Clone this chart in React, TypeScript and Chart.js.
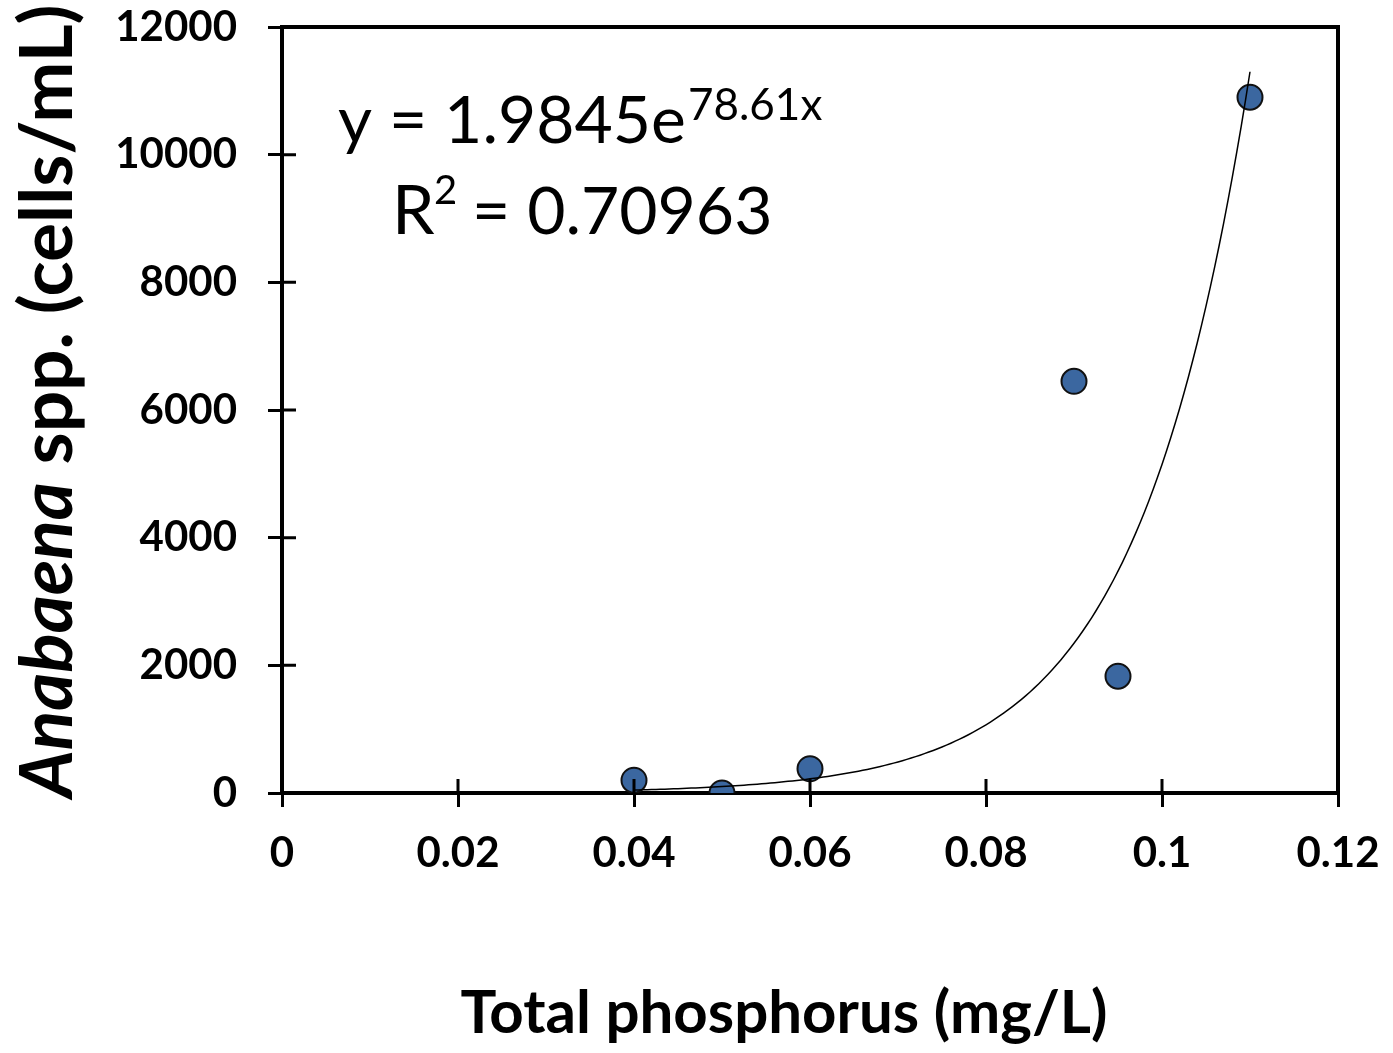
import React, { useEffect, useRef } from "react";
import { Chart, registerables } from "chart.js";

Chart.register(...registerables);

const X_VALUES = [0.04, 0.05, 0.06, 0.09, 0.095, 0.11];
const Y_VALUES = [200, 0, 380, 6450, 1830, 10900];
const X_TICK_LABELS = ["0", "0.02", "0.04", "0.06", "0.08", "0.1", "0.12"];
const Y_TICK_LABELS = ["0", "2000", "4000", "6000", "8000", "10000", "12000"];
const TREND_A = 1.9845;
const TREND_B = 78.61;
const TREND_X_RANGE = [0.04, 0.11];
const EQUATION_MAIN = "y = 1.9845e";
const EQUATION_EXP = "78.61x";
const R2_VALUE = "= 0.70963";
const X_TITLE = "Total phosphorus (mg/L)";
const Y_TITLE_ITALIC = "Anabaena";
const Y_TITLE_REST = " spp. (cells/mL)";

const FONT = "Lato";

const overlayPlugin = {
  id: "overlay",
  afterDraw(chart: any) {
    const { ctx, chartArea, scales } = chart;
    const { left, right, top, bottom } = chartArea;
    ctx.save();
    ctx.strokeStyle = "#000";
    ctx.lineWidth = 4;
    ctx.beginPath();
    ctx.moveTo(left - 2, top);
    ctx.lineTo(right, top);
    ctx.lineTo(right, bottom + 2);
    ctx.stroke();
    ctx.lineWidth = 3;
    ctx.beginPath();
    scales.x.ticks.forEach((t: any) => {
      const px = scales.x.getPixelForValue(t.value);
      ctx.moveTo(px, bottom);
      ctx.lineTo(px, bottom - 14);
    });
    scales.y.ticks.forEach((t: any) => {
      const py = scales.y.getPixelForValue(t.value);
      ctx.moveTo(left, py);
      ctx.lineTo(left + 14, py);
    });
    ctx.stroke();

    ctx.fillStyle = "#000";
    ctx.textBaseline = "alphabetic";
    ctx.textAlign = "left";
    ctx.font = `66px ${FONT}`;
    ctx.fillText(EQUATION_MAIN, 338, 143);
    const w1 = ctx.measureText(EQUATION_MAIN).width;
    ctx.font = `44px ${FONT}`;
    ctx.fillText(EQUATION_EXP, Math.max(683, 338 + w1 + 2), 120);
    ctx.font = `68px ${FONT}`;
    ctx.fillText("R", 392, 234);
    ctx.font = `40px ${FONT}`;
    ctx.fillText("2", 434, 204);
    ctx.font = `66px ${FONT}`;
    ctx.fillText(R2_VALUE, 472, 234);

    ctx.font = `bold 60px ${FONT}`;
    ctx.textAlign = "center";
    ctx.fillText(X_TITLE, 784, 1033);

    ctx.translate(72, 401);
    ctx.rotate(-Math.PI / 2);
    ctx.textAlign = "left";
    const fItalic = `italic bold 73px ${FONT}`;
    const fBold = `bold 73px ${FONT}`;
    ctx.font = fItalic;
    const wi = ctx.measureText(Y_TITLE_ITALIC).width;
    ctx.font = fBold;
    const wr = ctx.measureText(Y_TITLE_REST).width;
    const start = -(wi + wr) / 2;
    ctx.font = fItalic;
    ctx.fillText(Y_TITLE_ITALIC, start, 0);
    ctx.font = fBold;
    ctx.fillText(Y_TITLE_REST, start + wi, 0);
    ctx.restore();
  },
};

export default function App() {
  const ref = useRef<HTMLCanvasElement | null>(null);
  useEffect(() => {
    if (!ref.current) return;
    const trendX: number[] = [];
    for (let x = TREND_X_RANGE[0]; x <= TREND_X_RANGE[1] + 1e-9; x += 0.0005) trendX.push(x);
    const trend = trendX.map((x) => ({ x, y: TREND_A * Math.exp(TREND_B * x) }));
    const points = X_VALUES.map((x, i) => ({ x, y: Y_VALUES[i] }));
    const chart = new Chart(ref.current, {
      type: "scatter",
      data: {
        datasets: [
          {
            type: "line",
            data: trend,
            borderColor: "#000",
            borderWidth: 1.5,
            pointRadius: 0,
            fill: false,
            tension: 0,
          } as any,
          {
            data: points,
            backgroundColor: "#3B67A0",
            borderColor: "#111",
            borderWidth: 2,
            pointRadius: 12.5,
          },
        ],
      },
      options: {
        responsive: false,
        animation: false,
        events: [],
        layout: { padding: 0 },
        plugins: { legend: { display: false }, tooltip: { enabled: false } },
        scales: {
          x: {
            type: "linear",
            min: 0,
            max: 0.12,
            afterFit: (s: any) => {
              s.height = 260;
              s.paddingLeft = 0;
              s.paddingRight = 55;
            },
            ticks: {
              stepSize: 0.02,
              padding: 21,
              color: "#000",
              font: { family: FONT, size: 42, weight: "bold" },
              callback: (_v: any, i: number) => X_TICK_LABELS[i],
              maxRotation: 0,
            },
            grid: { drawOnChartArea: false, tickLength: 14, tickWidth: 3, tickColor: "#000" },
            border: { display: true, width: 4, color: "#000" },
          },
          y: {
            type: "linear",
            min: 0,
            max: 12000,
            afterFit: (s: any) => {
              s.width = 282;
              s.paddingTop = 27;
              s.paddingBottom = 0;
            },
            ticks: {
              stepSize: 2000,
              padding: 31,
              color: "#000",
              font: { family: FONT, size: 42, weight: "bold" },
              callback: (_v: any, i: number) => Y_TICK_LABELS[i],
            },
            grid: { drawOnChartArea: false, tickLength: 14, tickWidth: 3, tickColor: "#000" },
            border: { display: true, width: 4, color: "#000" },
          },
        },
      },
      plugins: [overlayPlugin],
    });
    return () => chart.destroy();
  }, []);
  return (
    <div style={{ position: "absolute", left: 0, top: 0, width: 1393, height: 1053, background: "#fff" }}>
      <canvas ref={ref} width={1393} height={1053} style={{ width: 1393, height: 1053 }} />
    </div>
  );
}
